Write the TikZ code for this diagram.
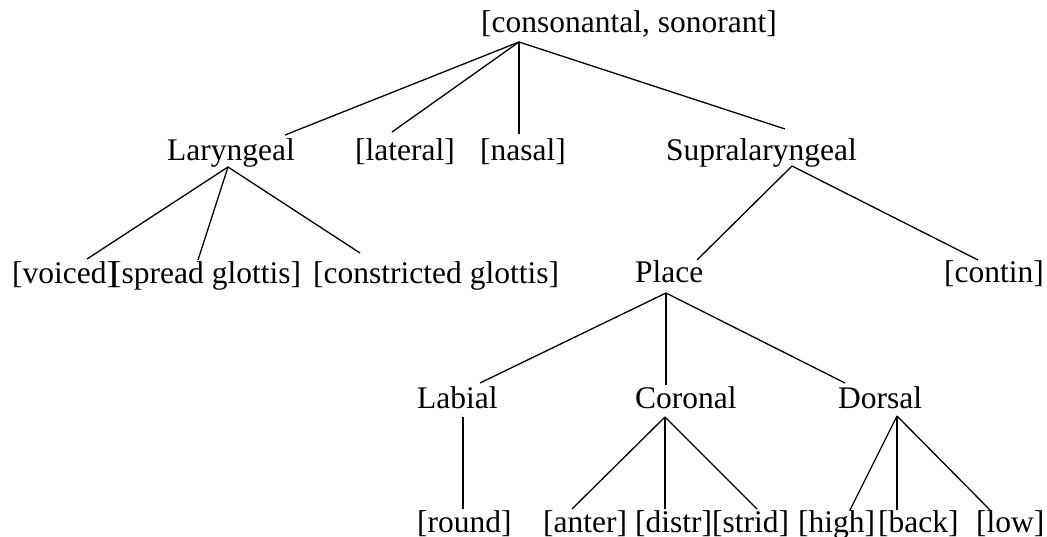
\documentclass[tikz,border=0pt]{standalone}
\usepackage{fontspec}
\setmainfont{Liberation Serif}
\begin{document}
\begin{tikzpicture}[x=1pt,y=-1pt,
  lbl/.style={anchor=base west,inner sep=0pt,font=\fontsize{31.5}{36}\selectfont},
  branch/.style={draw=black,line width=1.3pt}]
\path[use as bounding box] (0,0) rectangle (1047,537);
% text nodes
\node[lbl] (root) at (481,33) {[consonantal, sonorant]};
\node[lbl] (lar) at (167,161) {Laryngeal};
\node[lbl] (lat) at (355,161) {[lateral]};
\node[lbl] (nas) at (480,161) {[nasal]};
\node[lbl] (sup) at (666,161) {Supralaryngeal};
\node[lbl] (voi) at (12,284) {[voiced]};
\node[lbl] (spr) at (111,284) {[spread glottis]};
\node[lbl] (con) at (313,284) {[constricted glottis]};
\node[lbl] (pla) at (635,283) {Place};
\node[lbl] (cnt) at (944,283) {[contin]};
\node[lbl] (lab) at (417,408) {Labial};
\node[lbl] (cor) at (635,408) {Coronal};
\node[lbl] (dor) at (838,408) {Dorsal};
\node[lbl] (rnd) at (417,532) {[round]};
\node[lbl] (ant) at (543,532) {[anter]};
\node[lbl] (dis) at (635,532) {[distr]};
\node[lbl] (str) at (712,532) {[strid]};
\node[lbl] (hig) at (798,532) {[high]};
\node[lbl] (bck) at (878,532) {[back]};
\node[lbl] (low) at (976,532) {[low]};
% branch points
\coordinate (root-a) at (519,42);
\coordinate (lar-a) at (228,167);
\coordinate (sup-a) at (792,166);
\coordinate (pla-a) at (666,293);
\coordinate (lab-a) at (463,417);
\coordinate (cor-a) at (665,417);
\coordinate (dor-a) at (897,416);
% line ends
\coordinate (lar-t) at (285,135);
\coordinate (lat-t) at (392,132);
\coordinate (nas-t) at (519,134);
\coordinate (sup-t) at (785,129);
\coordinate (voi-t) at (87,259);
\coordinate (spr-t) at (198,260);
\coordinate (con-t) at (360,253);
\coordinate (pla-t) at (697,260);
\coordinate (cnt-t) at (978,260);
\coordinate (lab-t) at (480,383);
\coordinate (cor-t) at (666,385);
\coordinate (dor-t) at (845,383);
\coordinate (rnd-t) at (463,509);
\coordinate (ant-t) at (572,509);
\coordinate (dis-t) at (665,509);
\coordinate (str-t) at (757,509);
\coordinate (hig-t) at (850,510);
\coordinate (bck-t) at (897,510);
\coordinate (low-t) at (990,510);
% connectors
\draw[branch] (root-a) -- (lar-t);
\draw[branch] (root-a) -- (lat-t);
\draw[branch] (root-a) -- (nas-t);
\draw[branch] (root-a) -- (sup-t);
\draw[branch] (lar-a) -- (voi-t);
\draw[branch] (lar-a) -- (spr-t);
\draw[branch] (lar-a) -- (con-t);
\draw[branch] (sup-a) -- (pla-t);
\draw[branch] (sup-a) -- (cnt-t);
\draw[branch] (pla-a) -- (lab-t);
\draw[branch] (pla-a) -- (cor-t);
\draw[branch] (pla-a) -- (dor-t);
\draw[branch] (lab-a) -- (rnd-t);
\draw[branch] (cor-a) -- (ant-t);
\draw[branch] (cor-a) -- (dis-t);
\draw[branch] (cor-a) -- (str-t);
\draw[branch] (dor-a) -- (hig-t);
\draw[branch] (dor-a) -- (bck-t);
\draw[branch] (dor-a) -- (low-t);
\end{tikzpicture}
\end{document}
